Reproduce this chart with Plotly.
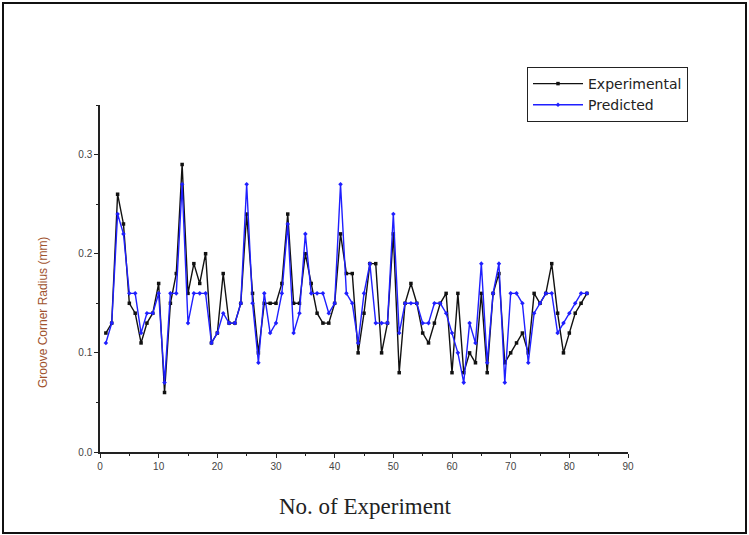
import plotly.graph_objects as go

experiment_no = list(range(1, 84))
experimental = [0.12, 0.13, 0.26, 0.23, 0.15, 0.14, 0.11, 0.13, 0.14, 0.17,
                0.06, 0.15, 0.18, 0.29, 0.16, 0.19, 0.17, 0.20, 0.11, 0.12,
                0.18, 0.13, 0.13, 0.15, 0.24, 0.16, 0.10, 0.15, 0.15, 0.15,
                0.17, 0.24, 0.15, 0.15, 0.20, 0.17, 0.14, 0.13, 0.13, 0.15,
                0.22, 0.18, 0.18, 0.10, 0.14, 0.19, 0.19, 0.10, 0.13, 0.22,
                0.08, 0.15, 0.17, 0.15, 0.12, 0.11, 0.13, 0.15, 0.16, 0.08,
                0.16, 0.08, 0.10, 0.09, 0.16, 0.08, 0.16, 0.18, 0.09, 0.10,
                0.11, 0.12, 0.10, 0.16, 0.15, 0.16, 0.19, 0.14, 0.10, 0.12,
                0.14, 0.15, 0.16]
predicted = [0.11, 0.13, 0.24, 0.22, 0.16, 0.16, 0.12, 0.14, 0.14, 0.16,
             0.07, 0.16, 0.16, 0.27, 0.13, 0.16, 0.16, 0.16, 0.11, 0.12,
             0.14, 0.13, 0.13, 0.15, 0.27, 0.15, 0.09, 0.16, 0.12, 0.13,
             0.16, 0.23, 0.12, 0.14, 0.22, 0.16, 0.16, 0.16, 0.14, 0.15,
             0.27, 0.16, 0.15, 0.11, 0.16, 0.19, 0.13, 0.13, 0.13, 0.24,
             0.12, 0.15, 0.15, 0.15, 0.13, 0.13, 0.15, 0.15, 0.14, 0.12,
             0.10, 0.07, 0.13, 0.11, 0.19, 0.09, 0.16, 0.19, 0.07, 0.16,
             0.16, 0.15, 0.09, 0.14, 0.15, 0.16, 0.16, 0.12, 0.13, 0.14,
             0.15, 0.16, 0.16]

x_ticks = [0, 10, 20, 30, 40, 50, 60, 70, 80, 90]
y_ticks = [0.0, 0.1, 0.2, 0.3]
y_tick_labels = ["0.0", "0.1", "0.2", "0.3"]

fig = go.Figure()
fig.add_trace(go.Scatter(
    x=experiment_no, y=experimental, name="Experimental", mode="lines+markers",
    line=dict(color="#111111", width=1.4),
    marker=dict(symbol="square", size=3.5, color="#111111"),
))
fig.add_trace(go.Scatter(
    x=experiment_no, y=predicted, name="Predicted", mode="lines+markers",
    line=dict(color="#1f1fff", width=1.4),
    marker=dict(symbol="diamond", size=3.5, color="#1f1fff"),
))

L, R, T, B = 100, 121, 105, 83
W, H = 749, 535
pw, ph = W - L - R, H - T - B

def px(xp):
    return (xp - L) / pw

def py(yp):
    return (H - B - yp) / ph

fig.update_layout(
    width=W, height=H,
    margin=dict(l=L, r=R, t=T, b=B),
    paper_bgcolor="white", plot_bgcolor="white",
    font=dict(family="Arial, Liberation Sans, sans-serif", size=11, color="#333333"),
    showlegend=True,
    legend=dict(
        x=px(527), y=py(67), xanchor="left", yanchor="top",
        bordercolor="#222222", borderwidth=1, bgcolor="white",
        font=dict(family="DejaVu Sans, sans-serif", size=14, color="#222222"),
        tracegroupgap=0, itemwidth=50,
    ),
    xaxis=dict(
        range=[0, 90], tickvals=x_ticks, showgrid=False, zeroline=False,
        showline=True, linecolor="#222222", linewidth=1.5,
        ticks="outside", ticklen=4, tickcolor="#222222",
        minor=dict(dtick=5, ticks="outside", ticklen=2, tickcolor="#222222"),
        tickfont=dict(size=10, color="#444444"),
    ),
    yaxis=dict(
        range=[0, 0.35], tickvals=y_ticks, ticktext=y_tick_labels,
        showgrid=False, zeroline=False,
        showline=True, linecolor="#222222", linewidth=1.5,
        ticks="outside", ticklen=4, tickcolor="#222222",
        minor=dict(dtick=0.05, ticks="outside", ticklen=2, tickcolor="#222222"),
        tickfont=dict(size=10, color="#444444"),
    ),
    annotations=[
        dict(text="Groove Corner Radius (mm)", textangle=-90, x=px(43), y=py(313),
             xref="paper", yref="paper", showarrow=False,
             xanchor="center", yanchor="middle",
             font=dict(family="Arial, Liberation Sans, sans-serif", size=12, color="#a0522d")),
        dict(text="No. of Experiment", x=px(365), y=py(507),
             xref="paper", yref="paper", showarrow=False,
             xanchor="center", yanchor="middle",
             font=dict(family="Liberation Serif, Times New Roman, serif", size=23, color="#222222")),
    ],
    shapes=[
        dict(type="rect", xref="paper", yref="paper",
             x0=px(3), x1=px(746), y0=py(533), y1=py(3),
             line=dict(color="#111111", width=2)),
    ],
)

fig.write_html("out.html", config={"displayModeBar": False},
               post_script="document.body.style.margin='0';document.body.style.overflow='hidden';")
